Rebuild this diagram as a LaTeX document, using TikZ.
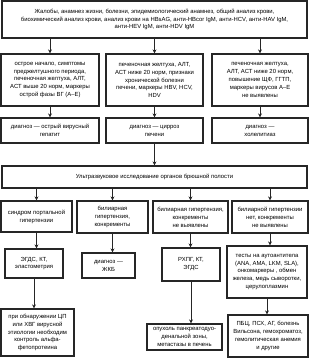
\documentclass[tikz,border=0pt]{standalone}
\usepackage{fontspec}
\setmainfont{Liberation Sans}
\usetikzlibrary{arrows.meta, positioning, calc}

\begin{document}
\begin{tikzpicture}[
      x=1pt, y=-1pt,
      box/.style={rectangle, draw=black!85, line width=1.2pt, align=center, inner sep=1pt,
        font=\fontsize{5.9}{7.9}\selectfont},
      arrow/.style={-{Stealth[length=4pt, width=4pt]}, line width=0.8pt, draw=black!85}
    ]
    \useasboundingbox (0,0) rectangle (309,359);

    \node[box, minimum width=305pt, minimum height=37pt] (intake) at (154.5,19.5)
      {Жалобы, анамнез жизни, болезни, эпидемиологический анамнез, общий анализ крови,\\
       биохимический анализ крови, анализ крови на HBsAG, анти-HBcor IgM, анти-HCV, анти-HAV IgM,\\
       анти-HEV IgM, анти-HDV IgM};

    \node[box, minimum width=98pt, minimum height=52pt] (acute) at (50,80)
      {острое начало, симптомы\\преджелтушного периода,\\печеночная желтуха, АЛТ,\\АСТ выше 20 норм, маркеры\\острой фазы ВГ (А–Е)};
    \node[box, minimum width=97pt, minimum height=52pt] (chron) at (154.5,80)
      {печеночная желтуха, АЛТ,\\АСТ ниже 20 норм, признаки\\хронической болезни\\печени, маркеры HBV, HCV,\\HDV};
    \node[box, minimum width=96pt, minimum height=52pt] (chol) at (260,80)
      {печеночная желтуха,\\АЛТ, АСТ ниже 20 норм,\\повышение ЩФ, ГГТП,\\маркеры вирусов А–Е\\не выявлены};

    \node[box, minimum width=98pt, minimum height=25pt] (dxacute) at (50,130.5)
      {диагноз — острый вирусный\\гепатит};
    \node[box, minimum width=97pt, minimum height=25pt] (dxcirr) at (154.5,130.5)
      {диагноз — цирроз\\печени};
    \node[box, minimum width=96pt, minimum height=25pt] (dxchol) at (260,130.5)
      {диагноз —\\холелитиаз};

    \node[box, minimum width=305pt, minimum height=22pt] (usound) at (154.5,177)
      {Ультразвуковое исследование органов брюшной полости};

    \node[box, minimum width=71pt, minimum height=31pt] (portal) at (36.5,216.5)
      {синдром портальной\\гипертензии};
    \node[box, minimum width=71pt, minimum height=32pt] (biliar) at (112.5,217)
      {билиарная\\гипертензия,\\конкременты};
    \node[box, minimum width=75pt, minimum height=32pt] (nostone) at (190.5,217)
      {билиарная гипертензия,\\конкременты\\не выявлены};
    \node[box, minimum width=76pt, minimum height=32pt] (nohyp) at (270,217)
      {билиарной гипертензии\\нет, конкременты\\не выявлены};

    \node[box, minimum width=58pt, minimum height=29pt] (egds) at (34,263.5)
      {ЭГДС, КТ,\\эластометрия};
    \node[box, minimum width=53pt, minimum height=25pt] (dxgsd) at (108.5,265.5)
      {диагноз —\\ЖКБ};
    \node[box, minimum width=58pt, minimum height=33pt] (rhpg) at (191,264.5)
      {РХПГ, КТ,\\ЭГДС};
    \node[box, minimum width=80pt, minimum height=52pt] (tests) at (267,272)
      {тесты на аутоантитела\\(ANA, AMA, LKM, SLA),\\онкомаркеры , обмен\\железа, медь сыворотки,\\церулоплазмин};

    \node[box, minimum width=73pt, minimum height=47pt] (afp) at (37.5,332.5)
      {при обнаружении ЦП\\или ХВГ вирусной\\этиологии необходим\\контроль альфа-\\фетопротеина};
    \node[box, minimum width=75pt, minimum height=26pt] (tumor) at (184.5,337)
      {опухоль панкреатодуо-\\денальной зоны,\\метастазы в печень};
    \node[box, minimum width=80pt, minimum height=42pt] (other) at (268,336)
      {ПБЦ, ПСХ, АГ, болезнь\\Вильсона, гемохроматоз,\\гемолитическая анемия\\и другие};

    \draw[arrow] (acute |- intake.south) -- (acute.north);
    \draw[arrow] (chron |- intake.south) -- (chron.north);
    \draw[arrow] (chol |- intake.south) -- (chol.north);
    \draw[arrow] (acute) -- (dxacute);
    \draw[arrow] (chron) -- (dxcirr);
    \draw[arrow] (chol) -- (dxchol);
    \draw[arrow] (dxcirr.south) -- (dxcirr.south |- usound.north);
    \draw[arrow] (portal |- usound.south) -- (portal.north);
    \draw[arrow] (biliar |- usound.south) -- (biliar.north);
    \draw[arrow] (nostone |- usound.south) -- (nostone.north);
    \draw[arrow] (nohyp |- usound.south) -- (nohyp.north);
    \draw[arrow] (portal.south) -- (portal.south |- egds.north);
    \draw[arrow] (biliar.south) -- (biliar.south |- dxgsd.north);
    \draw[arrow] (nostone.south) -- (nostone.south |- rhpg.north);
    \draw[arrow] (nohyp.south) -- (nohyp.south |- tests.north);
    \draw[arrow] (egds.south) -- (egds.south |- afp.north);
    \draw[arrow] (rhpg.south) -- (rhpg.south |- tumor.north);
    \draw[arrow] (tests.south) -- (tests.south |- other.north);
  \end{tikzpicture}
\end{document}
